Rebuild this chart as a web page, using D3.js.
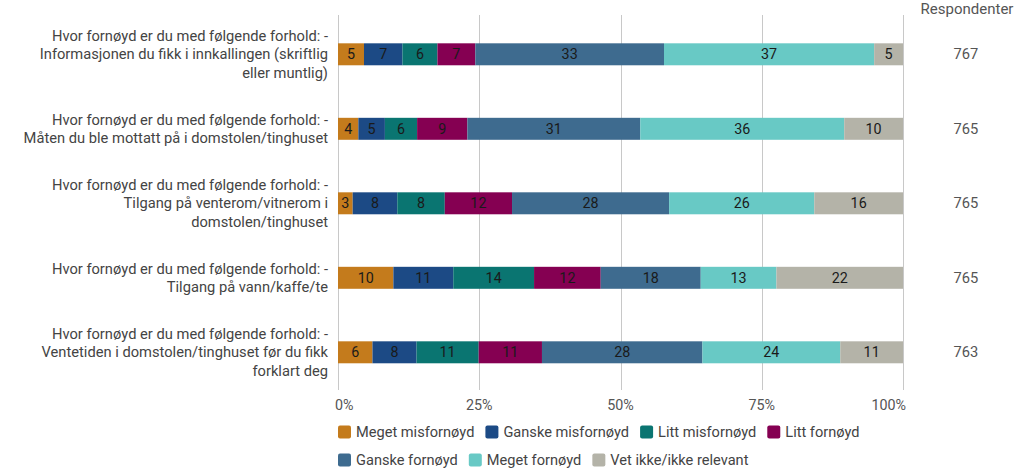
<!DOCTYPE html>
<html>
<head>
<meta charset="utf-8">
<script src="https://cdn.jsdelivr.net/npm/d3@7"></script>
<style>
  html, body { margin: 0; padding: 0; background: #fff; }
  svg { display: block; font-family: Roboto, "Noto Sans", sans-serif; }
</style>
</head>
<body>
<svg id="chart" width="1023" height="472"></svg>
<script>
// ---- Data ----
const categories = [
  "Hvor fornøyd er du med følgende forhold: -\nInformasjonen du fikk i innkallingen (skriftlig\neller muntlig)",
  "Hvor fornøyd er du med følgende forhold: -\nMåten du ble mottatt på i domstolen/tinghuset",
  "Hvor fornøyd er du med følgende forhold: -\nTilgang på venterom/vitnerom i\ndomstolen/tinghuset",
  "Hvor fornøyd er du med følgende forhold: -\nTilgang på vann/kaffe/te",
  "Hvor fornøyd er du med følgende forhold: -\nVentetiden i domstolen/tinghuset før du fikk\nforklart deg"
];
const seriesNames = ["Meget misfornøyd", "Ganske misfornøyd", "Litt misfornøyd", "Litt fornøyd",
                     "Ganske fornøyd", "Meget fornøyd", "Vet ikke/ikke relevant"];
const seriesColors = ["#C47B1C", "#1C4A85", "#0A7571", "#850052", "#3E6B8F", "#68C9C5", "#B4B3A8"];

const megetMisfornoyd  = [4.6, 3.6, 2.6, 9.8, 6.1];
const ganskeMisfornoyd = [6.8, 4.7, 7.9, 10.6, 7.8];
const littMisfornoyd   = [6.2, 5.7, 8.4, 14.3, 11.0];
const littFornoyd      = [6.7, 8.9, 11.9, 11.8, 11.2];
const ganskeFornoyd    = [33.4, 30.6, 27.8, 17.7, 28.4];
const megetFornoyd     = [37.2, 36.1, 25.7, 13.4, 24.4];
const vetIkke          = [5.1, 10.4, 15.7, 22.4, 11.1];
const respondents      = [767, 765, 765, 765, 763];
const respondentsTitle = "Respondenter";
const tickValues = [0, 0.25, 0.5, 0.75, 1];
const tickLabels = ["0%", "25%", "50%", "75%", "100%"];

const seriesValues = [megetMisfornoyd, ganskeMisfornoyd, littMisfornoyd, littFornoyd,
                      ganskeFornoyd, megetFornoyd, vetIkke];

// ---- Build table ----
const table = categories.map((c, i) => {
  const row = { category: c, n: respondents[i] };
  seriesNames.forEach((s, j) => row[s] = seriesValues[j][i]);
  return row;
});

const stacked = d3.stack().keys(seriesNames).offset(d3.stackOffsetExpand)(table);

// ---- Layout ----
const svg = d3.select("#chart");
const plotLeft = 338, plotRight = 903, plotTop = 15, plotBottom = 390;

const x = d3.scaleLinear().domain([0, 1]).range([plotLeft, plotRight]);
const y = d3.scaleBand().domain(categories).range([17.05, 389.55])
  .paddingInner(0.705).paddingOuter(0.3525);

// gridlines
svg.append("g").selectAll("line").data(tickValues).join("line")
  .attr("x1", d => Math.round(x(d)) + 0.5).attr("x2", d => Math.round(x(d)) + 0.5)
  .attr("y1", plotTop).attr("y2", plotBottom)
  .attr("stroke", "#c8c8c8").attr("stroke-width", 1);

// bars
const gSeries = svg.append("g").selectAll("g").data(stacked).join("g")
  .attr("fill", (d, i) => seriesColors[i]);

gSeries.selectAll("rect").data(d => d.map(v => Object.assign(v, { key: d.key }))).join("rect")
  .attr("x", d => x(d[0]))
  .attr("width", d => x(d[1]) - x(d[0]))
  .attr("y", d => y(d.data.category))
  .attr("height", y.bandwidth());

// bar labels
gSeries.selectAll("text").data(d => d).join("text")
  .attr("x", d => (x(d[0]) + x(d[1])) / 2)
  .attr("y", d => y(d.data.category) + y.bandwidth() / 2)
  .attr("dy", "0.35em")
  .attr("text-anchor", "middle")
  .attr("fill", "#1a1a1a")
  .attr("font-size", 14.3)
  .text(d => Math.round(d.data[d.key]));

// category labels
const lineH = 18.5;
const catG = svg.append("g").selectAll("text").data(categories).join("text")
  .attr("text-anchor", "end")
  .attr("fill", "#444")
  .attr("font-size", 14.7);
catG.each(function(c) {
  const lines = c.split("\n");
  const cy = y(c) + y.bandwidth() / 2;
  const start = cy - (lines.length - 1) * lineH / 2;
  d3.select(this).selectAll("tspan").data(lines).join("tspan")
    .attr("x", 328)
    .attr("y", (l, k) => start + k * lineH)
    .attr("dy", "0.35em")
    .text(l => l);
});

// x-axis tick labels
svg.append("g").selectAll("text").data(tickValues).join("text")
  .attr("x", (d, i) => i === 0 ? x(d) - 3 : (i === tickValues.length - 1 ? x(d) + 3 : x(d)))
  .attr("y", 405)
  .attr("dy", "0.35em")
  .attr("text-anchor", (d, i) => i === 0 ? "start" : (i === tickValues.length - 1 ? "end" : "middle"))
  .attr("fill", "#555")
  .attr("font-size", 14.3)
  .text((d, i) => tickLabels[i]);

// respondents column
svg.append("text")
  .attr("x", 967).attr("y", 9).attr("dy", "0.35em")
  .attr("text-anchor", "middle").attr("fill", "#555").attr("font-size", 15)
  .text(respondentsTitle);
svg.append("g").selectAll("text").data(table).join("text")
  .attr("x", 966)
  .attr("y", d => y(d.category) + y.bandwidth() / 2)
  .attr("dy", "0.35em")
  .attr("text-anchor", "middle").attr("fill", "#555").attr("font-size", 14.7)
  .text(d => d.n);

// legend
const legend = svg.append("g");
let lx = plotLeft, ly = 432;
const sw = 13, gapText = 5, gapItem = 11, rowH = 28, legendRight = 905;
seriesNames.forEach((name, i) => {
  const g = legend.append("g");
  const t = g.append("text")
    .attr("y", 0).attr("dy", "0.35em")
    .attr("fill", "#444").attr("font-size", 14.6)
    .text(name);
  const w = t.node().getComputedTextLength();
  if (lx + sw + gapText + w > legendRight && lx > plotLeft) { lx = plotLeft; ly += rowH; }
  g.append("rect")
    .attr("x", lx).attr("y", ly - sw / 2)
    .attr("width", sw).attr("height", sw)
    .attr("rx", 2).attr("fill", seriesColors[i]);
  t.attr("x", lx + sw + gapText).attr("y", ly);
  lx += sw + gapText + w + gapItem;
});
</script>
</body>
</html>
